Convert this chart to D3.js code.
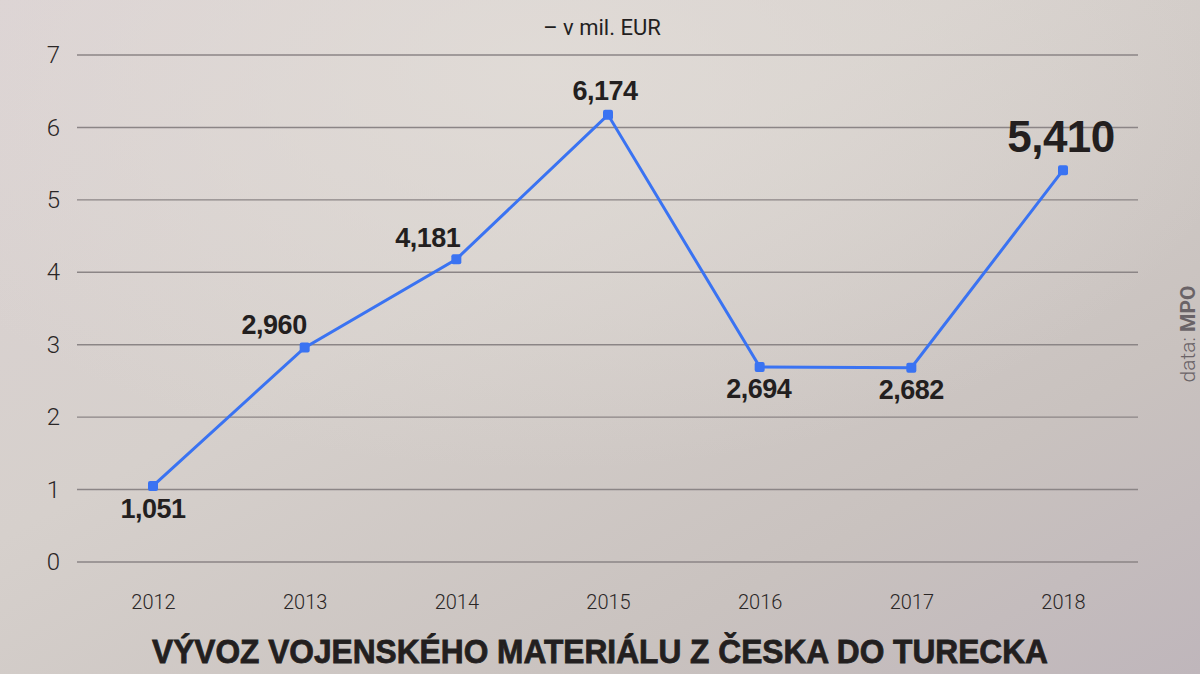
<!DOCTYPE html>
<html>
<head>
<meta charset="utf-8">
<script src="https://cdn.jsdelivr.net/npm/d3@7"></script>
<style>
  body { margin: 0; padding: 0; overflow: hidden; }
  svg { display: block; }
</style>
</head>
<body>
<div id="chart"></div>
<script>
// Data (mil. EUR)
const years = ["2012", "2013", "2014", "2015", "2016", "2017", "2018"];
const values = [1.051, 2.960, 4.181, 6.174, 2.694, 2.682, 5.410];
const valueLabels = ["1,051", "2,960", "4,181", "6,174", "2,694", "2,682", "5,410"];
const yTicks = [0, 1, 2, 3, 4, 5, 6, 7];

const svgWidth = 1200;
const svgHeight = 674;

const svg = d3.select('#chart')
    .append('svg')
    .attr('width', svgWidth)
    .attr('height', svgHeight);

// Background: soft greyish-pink gradient
const defs = svg.append('defs');
const bg = defs.append('linearGradient')
    .attr('id', 'bg')
    .attr('x1', '0%').attr('y1', '0%')
    .attr('x2', '100%').attr('y2', '100%');
bg.append('stop').attr('offset', '0%').attr('stop-color', '#dcd3d4');
bg.append('stop').attr('offset', '40%').attr('stop-color', '#d6d0cc');
bg.append('stop').attr('offset', '75%').attr('stop-color', '#c9c2bf');
bg.append('stop').attr('offset', '100%').attr('stop-color', '#bfb6bb');

const glow = defs.append('radialGradient')
    .attr('id', 'glow')
    .attr('cx', '45%').attr('cy', '10%').attr('r', '60%');
glow.append('stop').attr('offset', '0%').attr('stop-color', '#e2ddd8').attr('stop-opacity', 0.8);
glow.append('stop').attr('offset', '100%').attr('stop-color', '#e2ddd8').attr('stop-opacity', 0);

svg.append('rect').attr('width', svgWidth).attr('height', svgHeight).attr('fill', 'url(#bg)');
svg.append('rect').attr('width', svgWidth).attr('height', svgHeight).attr('fill', 'url(#glow)');

// Scales
const xScale = d3.scalePoint()
    .domain(years)
    .range([153, 1063]);
const yScale = d3.scaleLinear()
    .domain([0, 7])
    .range([562, 55]);

// Grid lines
svg.append('g')
    .selectAll('line')
    .data(yTicks)
    .enter()
    .append('line')
    .attr('x1', 77)
    .attr('x2', 1138)
    .attr('y1', d => yScale(d))
    .attr('y2', d => yScale(d))
    .attr('stroke', '#8b8586')
    .attr('stroke-width', 1.4);

// Y axis labels
const yAxis = d3.axisLeft(yScale).tickValues(yTicks).tickFormat(d3.format('d')).tickSize(0).tickPadding(0);
const yG = svg.append('g')
    .attr('transform', 'translate(60, 0)')
    .call(yAxis);
yG.select('.domain').remove();
yG.selectAll('text')
    .attr('font-family', 'Roboto, "Liberation Sans", sans-serif')
    .attr('font-weight', 300)
    .attr('font-size', 24)
    .attr('fill', '#2a2626');

// X axis labels
const xAxis = d3.axisBottom(xScale).tickSize(0).tickPadding(0);
const xG = svg.append('g')
    .attr('transform', 'translate(0, 595)')
    .call(xAxis);
xG.select('.domain').remove();
xG.selectAll('text')
    .attr('font-family', 'Roboto, "Liberation Sans", sans-serif')
    .attr('font-weight', 300)
    .attr('font-size', 20)
    .attr('fill', '#2a2626');

// Line
const points = years.map((y, i) => ({ year: y, value: values[i], label: valueLabels[i] }));
const line = d3.line()
    .x(d => xScale(d.year))
    .y(d => yScale(d.value));

svg.append('path')
    .datum(points)
    .attr('d', line)
    .attr('fill', 'none')
    .attr('stroke', '#3a73f2')
    .attr('stroke-width', 3);

svg.append('g')
    .selectAll('rect')
    .data(points)
    .enter()
    .append('rect')
    .attr('x', d => xScale(d.year) - 5)
    .attr('y', d => yScale(d.value) - 5)
    .attr('width', 10)
    .attr('height', 10)
    .attr('rx', 2)
    .attr('fill', '#3a73f2');

// Value labels: placement per point
const labelPlace = {
    "2012": { dx: 0, dy: 32, anchor: 'middle', size: 27 },
    "2013": { dx: 2, dy: -14, anchor: 'end', size: 27 },
    "2014": { dx: 4, dy: -12, anchor: 'end', size: 27 },
    "2015": { dx: -3, dy: -15, anchor: 'middle', size: 27 },
    "2016": { dx: -1, dy: 31, anchor: 'middle', size: 27 },
    "2017": { dx: 0, dy: 31, anchor: 'middle', size: 27 },
    "2018": { dx: -2, dy: -18, anchor: 'middle', size: 44 }
};

svg.append('g')
    .selectAll('text')
    .data(points)
    .enter()
    .append('text')
    .attr('x', d => xScale(d.year) + labelPlace[d.year].dx)
    .attr('y', d => yScale(d.value) + labelPlace[d.year].dy)
    .attr('text-anchor', d => labelPlace[d.year].anchor)
    .attr('font-family', '"Liberation Sans", Arial, sans-serif')
    .attr('font-weight', 'bold')
    .attr('font-size', d => labelPlace[d.year].size)
    .attr('letter-spacing', -0.5)
    .attr('fill', '#231f1f')
    .text(d => d.label);

// Unit
svg.append('text')
    .attr('x', 602)
    .attr('y', 35)
    .attr('text-anchor', 'middle')
    .attr('font-family', 'Roboto, "Liberation Sans", sans-serif')
    .attr('font-weight', 400)
    .attr('font-size', 22)
    .attr('fill', '#231f1f')
    .text('– v mil. EUR');

// Title
svg.append('text')
    .attr('x', 600)
    .attr('y', 663)
    .attr('text-anchor', 'middle')
    .attr('font-family', '"Liberation Sans", Arial, sans-serif')
    .attr('font-weight', 'bold')
    .attr('font-size', 33)
    .attr('textLength', 896)
    .attr('lengthAdjust', 'spacingAndGlyphs')
    .attr('fill', '#231f1f')
    .attr('stroke', '#231f1f')
    .attr('stroke-width', 0.8)
    .text('VÝVOZ VOJENSKÉHO MATERIÁLU Z ČESKA DO TURECKA');

// Source, rotated
const src = svg.append('text')
    .attr('transform', 'translate(1195, 334) rotate(-90)')
    .attr('text-anchor', 'middle')
    .attr('font-family', 'Roboto, "Liberation Sans", sans-serif')
    .attr('font-size', 21)
    .attr('fill', '#6a6367');
src.append('tspan').attr('font-weight', 300).text('data: ');
src.append('tspan').attr('font-weight', 'bold').text('MPO');
</script>
</body>
</html>
